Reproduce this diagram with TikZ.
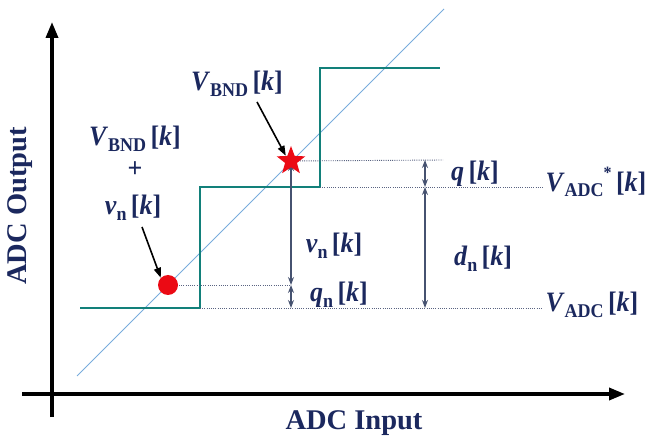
\documentclass[tikz,border=0pt]{standalone}
\usepackage{fontspec}
\setmainfont{Liberation Serif}
\usetikzlibrary{arrows.meta,shapes.geometric}
\definecolor{navy}{RGB}{27,40,94}
\definecolor{stair}{RGB}{18,128,122}
\definecolor{diagc}{RGB}{120,172,220}
\definecolor{dimc}{RGB}{70,82,112}
\definecolor{dotc}{RGB}{90,100,130}
\definecolor{mred}{RGB}{235,10,20}
\newcommand{\lsub}[1]{\raisebox{-0.45ex}{\fontsize{18}{18}\selectfont\upshape #1}}
\newcommand{\lk}{\,[\textit{k}]}
\tikzset{
  lbl/.style={text=navy, font=\fontsize{26}{28}\selectfont\bfseries, inner sep=0pt, yscale=1.08},
  axlbl/.style={text=navy, font=\fontsize{28.5}{30}\selectfont\bfseries, inner sep=0pt},
  axis/.style={line width=3.5pt, -{Triangle[length=16pt,width=12pt]}},
  stairline/.style={stair, line width=2.8pt},
  ideal/.style={diagc, line width=0.8pt},
  guide/.style={dotc, line width=0.9pt, dash pattern=on 1pt off 1.2pt},
  dimarrow/.style={dimc, line width=1.2pt, {Stealth[length=8pt,width=6pt]}-{Stealth[length=8pt,width=6pt]}},
  pointer/.style={black, line width=1.6pt, -{Triangle[length=10pt,width=7pt]}},
}
\begin{document}
\begin{tikzpicture}[x=1pt,y=-1pt]
\useasboundingbox (0,0) rectangle (650,443);
% axes
\coordinate (yb) at (52,417);
\coordinate (yt) at (52,22);
\coordinate (xl) at (22,394);
\coordinate (xr) at (625,394);
\draw[axis] (yb) -- (yt);
\draw[axis] (xl) -- (xr);
\node[axlbl, rotate=90] (ylab) at (20,206) {ADC Output};
\node[axlbl] (xlab) at (354,423) {ADC Input};
% ideal line
\coordinate (d1) at (77,376);
\coordinate (d2) at (444,9);
\draw[ideal] (d1) -- (d2);
% staircase
\coordinate (s0) at (80,308);
\coordinate (s1) at (200,308);
\coordinate (s2) at (200,187);
\coordinate (s3) at (320,187);
\coordinate (s4) at (320,68);
\coordinate (s5) at (440,68);
\draw[stairline] (s0) -- (s1) -- (s2) -- (s3) -- (s4) -- (s5);
% guides
\coordinate (g1e) at (443,160);
\coordinate (g2e) at (543,187);
\coordinate (g3e) at (291,285);
\coordinate (g4e) at (543,308);
\coordinate (star) at (291,161);
\coordinate (circ) at (168,285);
\draw[guide] (star) -- (g1e);
\draw[guide] (s3) -- (g2e);
\draw[guide] (circ) -- (g3e);
\draw[guide] (s1) -- (g4e);
% dimension arrows
\coordinate (a1) at (291,163);
\coordinate (a2) at (291,285);
\coordinate (a3) at (291,308);
\coordinate (b1) at (425,160);
\coordinate (b2) at (425,187);
\coordinate (b3) at (425,308);
\draw[dimarrow] (a1) -- (a2);
\draw[dimarrow] (a2) -- (a3);
\draw[dimarrow] (b1) -- (b2);
\draw[dimarrow] (b2) -- (b3);
% markers
\node[star, star points=5, star point ratio=2.4, fill=mred, minimum size=30pt, inner sep=0pt] (starm) at (star) {};
\node[circle, fill=mred, minimum size=20pt, inner sep=0pt] (circm) at (circ) {};
% labels
\node[lbl] (vbnd1) at (237,84) {\textit{V}\lsub{BND}\lk};
\node[lbl] (vbnd2) at (135,139) {\textit{V}\lsub{BND}\lk};
\node[lbl] (plus) at (135,170) {+};
\node[lbl] (vn1) at (133,208) {\textit{v}\lsub{n}\lk};
\node[lbl] (vn2) at (334,246) {\textit{v}\lsub{n}\lk};
\node[lbl] (qn) at (339,295) {\textit{q}\lsub{n}\lk};
\node[lbl] (q) at (475,174) {\textit{q}\lk};
\node[lbl] (dn) at (483,259) {\textit{d}\lsub{n}\lk};
\node[lbl] (vadcs) at (596,182) {\textit{V}\lsub{ADC}\raisebox{1.0ex}{\fontsize{16}{16}\selectfont *}\lk};
\node[lbl] (vadc) at (592,305) {\textit{V}\lsub{ADC}\lk};
% pointers
\coordinate (p1) at (257,102);
\coordinate (p2) at (142,227);
\draw[pointer] (p1) -- (starm.north west);
\draw[pointer] (p2) -- (circm.north west);
\end{tikzpicture}
\end{document}
